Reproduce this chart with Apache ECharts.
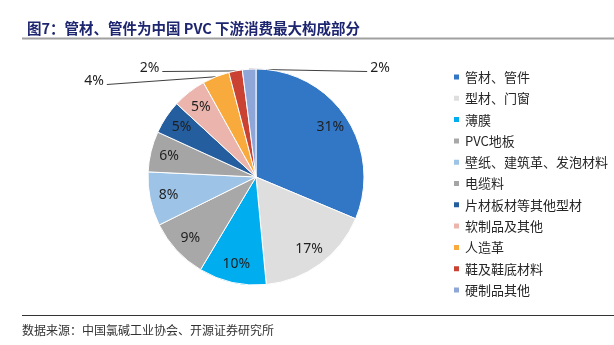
<!DOCTYPE html>
<html>
<head>
<meta charset="utf-8">
<script src="https://cdn.jsdelivr.net/npm/echarts@6/dist/echarts.min.js"></script>
<style>
html,body{margin:0;padding:0;background:#fff;}
#chart{width:614px;height:345px;}
</style>
</head>
<body>
<div id="chart"></div>
<script>
const categories = ['管材、管件','型材、门窗','薄膜','PVC地板','壁纸、建筑革、发泡材料','电缆料','片材板材等其他型材','软制品及其他','人造革','鞋及鞋底材料','硬制品其他'];
const values = [31, 17, 10, 9, 8, 6, 5, 5, 4, 2, 2];
const colors = ['#3276C6','#DEDEDE','#00AEEF','#A8A8A8','#9DC3E6','#A5A5A5','#255E9F','#EBB4AC','#F8AA3C','#C94232','#8FA6D8'];
const titleText = '图7：管材、管件为中国 PVC 下游消费最大构成部分';
const sourceText = '数据来源：中国氯碱工业协会、开源证券研究所';

const outsideIdx = [8, 9, 10];
// label centres for the small outside slices (pixel positions of the text)
const outsidePos = {8: [94, 81.5], 9: [149.5, 68.5], 10: [380, 68.5]};

const CX = 256, CY = 177, R = 108;
const labelFont = {fontFamily: '"Noto Sans", "Open Sans", sans-serif', fontSize: 14, color: '#1f1f1f'};

const mainData = categories.map((n, i) => ({
  name: n, value: values[i],
  itemStyle: {color: colors[i]},
  label: {show: outsideIdx.includes(i)},
  labelLine: {show: outsideIdx.includes(i)}
}));
const overlayData = categories.map((n, i) => ({
  name: n, value: values[i],
  label: {show: !outsideIdx.includes(i)}
}));

const chart = echarts.init(document.getElementById('chart'), null, {renderer: 'canvas'});
chart.setOption({
  animation: false,
  backgroundColor: '#fff',
  title: {
    text: titleText, left: 22, top: 16,
    textStyle: {fontFamily: '"Noto Sans CJK SC", sans-serif', fontSize: 14.5, fontWeight: 'bold', color: '#1E2670'}
  },
  graphic: [
    {type: 'rect', shape: {x: 22, y: 37.5, width: 592, height: 2}, style: {fill: '#A0A0A0'}, silent: true},
    {type: 'rect', shape: {x: 22, y: 315, width: 592, height: 1}, style: {fill: '#333'}, silent: true},
    {type: 'text', left: 22, top: 324, style: {text: sourceText, font: '12px "Noto Sans CJK SC", sans-serif', fill: '#333'}, silent: true}
  ],
  legend: {
    orient: 'vertical', left: 447, top: 65,
    itemWidth: 7, itemHeight: 7, itemGap: 7.3, icon: 'rect',
    data: categories,
    textStyle: {fontFamily: '"Noto Sans CJK SC", sans-serif', fontSize: 13, lineHeight: 14, color: '#262626'}
  },
  series: [
    {
      type: 'pie', center: [CX, CY], radius: [0, R],
      startAngle: 90, clockwise: true, avoidLabelOverlap: false,
      itemStyle: {borderColor: '#fff', borderWidth: 1},
      emphasis: {disabled: true},
      label: Object.assign({position: 'outside', formatter: '{c}%'}, labelFont),
      labelLine: {show: true, length: 5, length2: 5, lineStyle: {color: '#404040', width: 1}},
      labelLayout: function (p) {
        const pos = outsidePos[p.dataIndex];
        if (!pos) return {};
        const w = p.labelRect.width;
        const a = p.labelLinePoints ? p.labelLinePoints[0] : [CX, CY - R];
        const end = pos[0] < a[0] ? [pos[0] + w / 2 + 3, pos[1] + 3] : [pos[0] - w / 2 - 3, pos[1] + 3];
        return {x: pos[0], y: pos[1], align: 'center', verticalAlign: 'middle',
                labelLinePoints: [a, a, end]};
      },
      data: mainData
    },
    {
      type: 'pie', center: [CX, CY], radius: [R * 0.6, R],
      startAngle: 90, clockwise: true, silent: true, avoidLabelOverlap: false,
      itemStyle: {color: 'transparent', borderWidth: 0},
      emphasis: {disabled: true},
      label: Object.assign({position: 'inside', formatter: '{c}%'}, labelFont),
      labelLine: {show: false},
      data: overlayData
    }
  ]
});
</script>
</body>
</html>
